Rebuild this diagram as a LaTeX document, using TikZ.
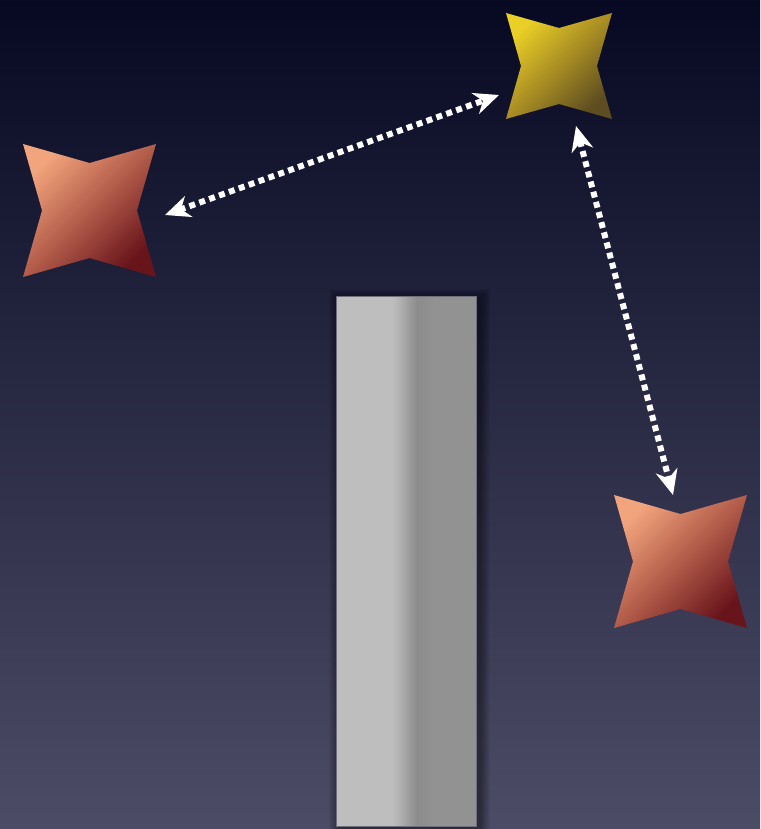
\documentclass[tikz,border=0pt]{standalone}
\usetikzlibrary{arrows.meta}
\definecolor{bgtop}{HTML}{070923}
\definecolor{bgbot}{HTML}{4D4C66}
\definecolor{redlight}{HTML}{F2A47C}
\definecolor{redmid}{HTML}{B25C4A}
\definecolor{reddark}{HTML}{68141B}
\definecolor{yellight}{HTML}{EACF26}
\definecolor{yelmid}{HTML}{A88D24}
\definecolor{yeldark}{HTML}{5E4D20}
\definecolor{pl}{HTML}{BEBEBE}
\definecolor{pl2}{HTML}{B6B6B6}
\definecolor{pm}{HTML}{A0A0A0}
\definecolor{pd}{HTML}{8C8C8C}
\definecolor{pr}{HTML}{929292}
\definecolor{pborder}{HTML}{6E6E7C}
\pgfdeclarehorizontalshading{pillar}{100bp}{color(0bp)=(pl); color(45bp)=(pl); color(46.8bp)=(pl2); color(50.4bp)=(pm); color(54bp)=(pd); color(60bp)=(pr); color(100bp)=(pr)}
\newcommand{\fourstar}[5]{%
  \shade[top color=#5light,bottom color=#5dark,middle color=#5mid,shading angle=45]
    (#1-#3,#2-#3) -- (#1,#2-#4) -- (#1+#3,#2-#3) -- (#1+#4,#2) --
    (#1+#3,#2+#3) -- (#1,#2+#4) -- (#1-#3,#2+#3) -- (#1-#4,#2) -- cycle;}
\tikzset{
  dotarrow/.style={white,line width=6pt,dash pattern=on 6pt off 4.5pt,
    {Stealth[length=25pt,width=22pt,inset=8pt]}-{Stealth[length=25pt,width=22pt,inset=8pt]}},
  pillarbox/.style={shading=pillar,draw=pborder,line width=1pt}
}
\begin{document}
\begin{tikzpicture}[x=1pt,y=-1pt]
\useasboundingbox (0,0) rectangle (760,829);
\shade[top color=bgtop,bottom color=bgbot] (0,0) rectangle (760,829);
% stars
\fourstar{559}{66}{53}{38}{yel}
\fourstar{89.5}{210.5}{66.5}{47.5}{red}
\fourstar{680.5}{561.5}{66.5}{47.5}{red}
% pillar shadow
\foreach \k in {1,...,10}
  \fill[black,opacity=0.045] (336-\k+3,296-\k+3) rectangle (476+\k+4,826+\k+3);
% pillar
\shade[pillarbox] (336,296) rectangle (476,826);
% arrow end points
\coordinate (leftstar) at (165,215);
\coordinate (topstarL) at (499,95);
\coordinate (topstarB) at (576,126);
\coordinate (rightstar) at (673,495);
\draw[dotarrow] (leftstar) -- (topstarL);
\draw[dotarrow] (topstarB) -- (rightstar);
\end{tikzpicture}
\end{document}
